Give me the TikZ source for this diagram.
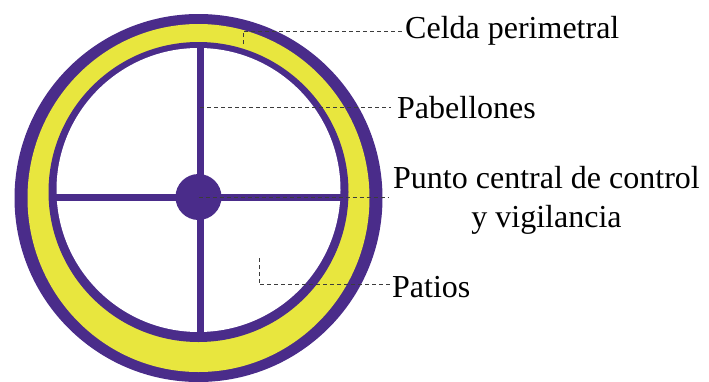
\documentclass[tikz,border=0pt]{standalone}
\usepackage{fontspec}
\newfontfamily\labelfont{LiberationSerif}[Extension=.ttf, UprightFont=*-Regular]
\definecolor{ringpurple}{RGB}{74,44,138}
\definecolor{ringyellow}{RGB}{232,230,62}
\definecolor{leadergray}{RGB}{60,60,60}
\tikzset{
  leader/.style={draw=leadergray, line width=1pt, dash pattern=on 4pt off 3pt},
  lbl/.style={inner sep=0pt, font=\labelfont\fontsize{32}{39}\selectfont, text=black},
  spoke/.style={draw=ringpurple, line width=7pt},
}
\begin{document}
\begin{tikzpicture}[x=1pt,y=-1pt]
\useasboundingbox (0,0) rectangle (709,381);
% rings
\fill[ringpurple] (198.5,198) circle (184);
\fill[ringyellow] (198.5,198) ellipse [x radius=171, y radius=174];
\fill[ringpurple] (198.5,192) circle (150);
\fill[white] (198.5,190) circle (142);
% cross
\draw[spoke] (200,46) -- (200,334);
\draw[spoke] (55,197) -- (342,197);
\node[circle, fill=ringpurple, inner sep=0pt, minimum size=46pt] (ctr) at (198.5,197) {};
% labels
\node[lbl, anchor=base west] (celda) at (405,38) {Celda perimetral};
\node[lbl, anchor=base west] (pab) at (397,118) {Pabellones};
\node[lbl, anchor=base west] (punto) at (393,188) {Punto central de control};
\node[lbl, anchor=base] (vig) at ([yshift=-39pt]punto.base) {y vigilancia};
\node[lbl, anchor=base west] (patios) at (392,297) {Patios};
% leader anchors
\coordinate (celdaP) at (243,44);
\coordinate (pabP) at (200,107);
\coordinate (puntoE) at (388,197);
\coordinate (patiosP) at (259,258);
% leaders
\draw[leader] (celdaP) |- ([yshift=-1pt]celda.west);
\draw[leader] (pabP) -- ([xshift=-6pt]pab.west |- pabP);
\draw[leader] (ctr.center) -- (puntoE);
\draw[leader] (patiosP) |- ([yshift=2pt]patios.west);
\end{tikzpicture}
\end{document}
